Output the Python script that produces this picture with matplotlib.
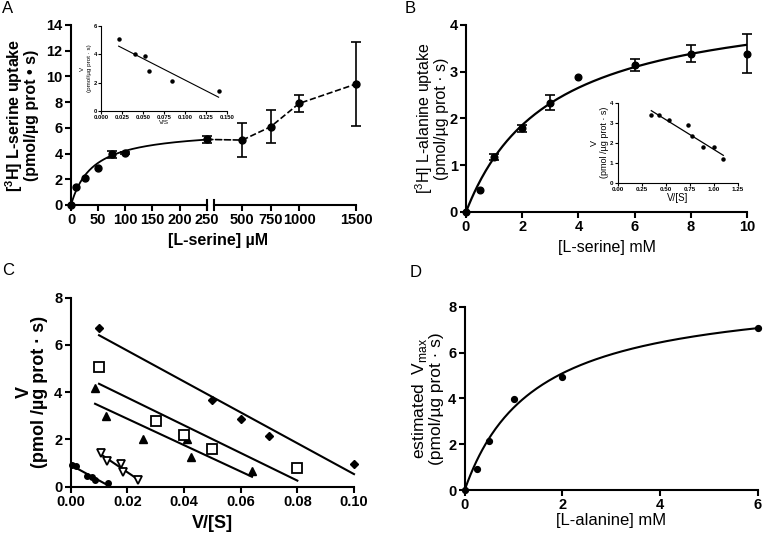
import numpy as np
import matplotlib
matplotlib.use("Agg")
import matplotlib.pyplot as plt
from matplotlib.patches import ConnectionPatch
from matplotlib.ticker import FormatStrFormatter

plt.rcParams['font.family'] = ['Liberation Sans', 'DejaVu Sans']
plt.rcParams['mathtext.fontset'] = 'custom'
plt.rcParams['mathtext.rm'] = 'Liberation Sans'
plt.rcParams['mathtext.bf'] = 'Liberation Sans:bold'
plt.rcParams['axes.linewidth'] = 1.5

# ---------- data ----------
# A: [3H] L-serine uptake vs [L-serine] (uM)
ser_low_x = [0, 10, 25, 50, 75, 100, 250]
ser_low_y = [0, 1.42, 2.07, 2.9, 3.94, 4.02, 5.1]
ser_low_err = [0, 0, 0, 0, 0.27, 0.08, 0.3]
ser_high_x = [500, 750, 1000, 1500]
ser_high_y = [5.05, 6.09, 7.9, 9.41]
ser_high_err = [1.3, 1.27, 0.67, 3.3]
ser_vmax, ser_km = 5.9, 40.0
# A inset (Eadie-Hofstee)
ser_ins_x = [0.021, 0.040, 0.052, 0.057, 0.084, 0.140]
ser_ins_y = [5.1, 4.0, 3.9, 2.85, 2.1, 1.4]

# B: [3H] L-alanine uptake vs [L-serine] (mM)
ala_x = [0, 0.5, 1, 2, 3, 4, 6, 8, 10]
ala_y = [0, 0.47, 1.18, 1.79, 2.34, 2.89, 3.14, 3.39, 3.39]
ala_err = [0, 0, 0.06, 0.07, 0.16, 0, 0.13, 0.19, 0.42]
ala_vmax, ala_km = 4.65, 3.0
ala_ins_x = [0.35, 0.43, 0.53, 0.73, 0.77, 0.89, 1.0, 1.1]
ala_ins_y = [3.39, 3.38, 3.13, 2.88, 2.33, 1.77, 1.8, 1.2]

# C: Eadie-Hofstee at several L-alanine levels
c_circ_x = [0.0005, 0.0018, 0.0056, 0.0074, 0.0086, 0.0133]
c_circ_y = [0.93, 0.87, 0.45, 0.40, 0.28, 0.15]
c_dtri_x = [0.0106, 0.0129, 0.0178, 0.0184, 0.0239]
c_dtri_y = [1.41, 1.10, 0.96, 0.64, 0.28]
c_tri_x = [0.0086, 0.0124, 0.0254, 0.041, 0.0424, 0.064]
c_tri_y = [4.19, 2.99, 2.03, 2.03, 1.24, 0.65]
c_sq_x = [0.010, 0.030, 0.040, 0.050, 0.080]
c_sq_y = [5.05, 2.78, 2.2, 1.6, 0.78]
c_dia_x = [0.010, 0.050, 0.060, 0.070, 0.100]
c_dia_y = [6.72, 3.67, 2.86, 2.16, 0.97]

# D: estimated Vmax vs [L-alanine] (mM)
d_x = [0, 0.25, 0.5, 1, 2, 6]
d_y = [0, 0.92, 2.14, 3.98, 4.95, 7.07]
d_vmax, d_km = 8.76, 1.44


def mm(x, vmax, km):
    return vmax * x / (km + x)


def fit_line(ax, x, y, lw=1.5):
    k, b = np.polyfit(x, y, 1)
    xx = np.array([min(x), max(x)])
    ax.plot(xx, k * xx + b, color='black', lw=lw, clip_on=False)


def style(ax, size=10.5, lw=1.5, length=4):
    for s in ['top', 'right']:
        ax.spines[s].set_visible(False)
    for s in ['left', 'bottom']:
        ax.spines[s].set_linewidth(lw)
    ax.tick_params(direction='out', length=length, width=lw, labelsize=size, pad=2)
    for lab in ax.get_xticklabels() + ax.get_yticklabels():
        lab.set_fontweight('bold')


def points_with_err(ax, x, y, err, ms=5, cap=3.5):
    x, y, err = np.array(x), np.array(y), np.array(err)
    m = err > 0
    ax.errorbar(x[m], y[m], yerr=err[m], fmt='none', ecolor='black',
                elinewidth=1.2, capsize=cap, capthick=1.2, clip_on=False)
    ax.plot(x, y, 'o', color='black', ms=ms, clip_on=False, zorder=3)


fig = plt.figure(figsize=(7.63, 5.36), dpi=100)
W, H = 763, 536


def px_axes(x0, y0, x1, y1):
    return fig.add_axes([x0 / W, 1 - y1 / H, (x1 - x0) / W, (y1 - y0) / H])


# ---------- panel A ----------
axA1 = px_axes(71, 25, 206.7, 205)
axA2 = px_axes(213.9, 25, 356, 205)
xx = np.linspace(0, 250, 200)
axA1.plot(xx, mm(xx, ser_vmax, ser_km), color='black', lw=1.3)
points_with_err(axA1, ser_low_x, ser_low_y, ser_low_err, ms=5)
axA1.set_xlim(0, 250)
axA1.set_ylim(0, 14)
axA1.set_xticks([0, 50, 100, 150, 200, 250])
axA1.set_yticks(range(0, 15, 2))
style(axA1)

axA2.plot(ser_high_x, ser_high_y, '--', color='black', lw=1.2)
points_with_err(axA2, ser_high_x, ser_high_y, ser_high_err, ms=5)
axA2.set_xlim(250, 1500)
axA2.set_ylim(0, 14)
axA2.set_xticks(ser_high_x)
style(axA2)
axA2.spines['left'].set_visible(False)
axA2.yaxis.set_visible(False)
axA2.patch.set_alpha(0)
con = ConnectionPatch(xyA=(ser_low_x[-1], ser_low_y[-1]), coordsA=axA1.transData,
                      xyB=(ser_high_x[0], ser_high_y[0]), coordsB=axA2.transData,
                      linestyle='--', color='black', lw=1.2)
fig.add_artist(con)
# axis break marks
for ax, xb in [(axA1, 1.0), (axA2, 0.0)]:
    ax.plot([xb, xb], [-0.03, 0.03], transform=ax.transAxes, color='black',
            lw=1.5, clip_on=False)

axA1.set_ylabel('[$^{\\mathbf{3}}$H] L-serine uptake\n(pmol/µg prot • s)',
                fontsize=11.5, fontweight='bold', linespacing=0.92)
axA1.yaxis.set_label_coords(-0.235, 0.5)
fig.text(218 / W, 1 - 233 / H, '[L-serine] µM', ha='center', va='top',
         fontsize=11.5, fontweight='bold')

# inset A
axAi = px_axes(101, 26, 227, 111)
axAi.plot(ser_ins_x, ser_ins_y, 'o', color='black', ms=2.2, clip_on=False)
fit_line(axAi, ser_ins_x, ser_ins_y, lw=0.8)
axAi.set_xlim(0, 0.15)
axAi.set_ylim(0, 6)
axAi.set_xticks(np.arange(0, 0.151, 0.025))
axAi.set_yticks([0, 2, 4, 6])
axAi.xaxis.set_major_formatter(FormatStrFormatter('%.3f'))
style(axAi, size=4.2, lw=0.8, length=2)
axAi.tick_params(pad=1)
axAi.set_xlabel('V/S', fontsize=4.5, labelpad=0)
axAi.set_ylabel('V\n(pmol/µg prot · s)', fontsize=4.5, linespacing=1.6, labelpad=1)

# ---------- panel B ----------
axB = px_axes(466, 25, 747, 212)
xx = np.linspace(0, 10, 200)
axB.plot(xx, mm(xx, ala_vmax, ala_km), color='black', lw=1.6)
points_with_err(axB, ala_x, ala_y, ala_err, ms=4.8)
axB.set_xlim(0, 10)
axB.set_ylim(0, 4)
axB.set_xticks(range(0, 11, 2))
axB.set_yticks(range(0, 5))
style(axB)
axB.set_ylabel('[$^{3}$H] L-alanine uptake\n(pmol/µg prot · s)', fontsize=11.5,
               linespacing=0.95)
axB.yaxis.set_label_coords(-0.06, 0.5)
axB.set_xlabel('[L-serine] mM', fontsize=11.5)
axB.xaxis.set_label_coords(0.5, -0.15)

axBi = px_axes(617.7, 102.7, 737.7, 182.7)
axBi.plot(ala_ins_x, ala_ins_y, 'o', color='black', ms=2.2, clip_on=False)
fit_line(axBi, ala_ins_x, ala_ins_y, lw=0.9)
axBi.set_xlim(0, 1.25)
axBi.set_ylim(0, 4)
axBi.set_xticks([0, 0.25, 0.5, 0.75, 1.0, 1.25])
axBi.set_yticks(range(0, 5))
axBi.xaxis.set_major_formatter(FormatStrFormatter('%.2f'))
style(axBi, size=4.5, lw=0.8, length=2)
axBi.tick_params(pad=1)
axBi.set_xlabel('V/[S]', fontsize=7, labelpad=1)
axBi.set_ylabel('V\n(pmol /µg prot · s)', fontsize=6.5, linespacing=1.1, labelpad=1)

# ---------- panel C ----------
axC = px_axes(70.7, 297.7, 354, 486.7)
kw = dict(color='black', linestyle='none', clip_on=False, zorder=3)
axC.plot(c_circ_x, c_circ_y, marker='o', ms=4, **kw)
axC.plot(c_dtri_x, c_dtri_y, marker='v', ms=6, mfc='white', mew=1.3, **kw)
axC.plot(c_tri_x, c_tri_y, marker='^', ms=5.5, **kw)
axC.plot(c_sq_x, c_sq_y, marker='s', ms=6.5, mfc='white', mew=1.3, **kw)
axC.plot(c_dia_x, c_dia_y, marker='D', ms=4, **kw)
for sx, sy in [(c_circ_x, c_circ_y), (c_dtri_x, c_dtri_y), (c_tri_x, c_tri_y),
               (c_sq_x, c_sq_y), (c_dia_x, c_dia_y)]:
    fit_line(axC, sx, sy)
axC.set_xlim(0, 0.10)
axC.set_ylim(0, 8)
axC.set_xticks(np.arange(0, 0.101, 0.02))
axC.set_yticks(range(0, 9, 2))
axC.xaxis.set_major_formatter(FormatStrFormatter('%.2f'))
style(axC)
axC.set_ylabel('V\n(pmol /µg prot · s)', fontsize=13, fontweight='bold', linespacing=0.85)
axC.yaxis.set_label_coords(-0.08, 0.5)
axC.set_xlabel('V/[S]', fontsize=13, fontweight='bold')
axC.xaxis.set_label_coords(0.5, -0.15)

# ---------- panel D ----------
axD = px_axes(464.7, 306.7, 757.7, 490)
xx = np.linspace(0, 6, 200)
axD.plot(xx, mm(xx, d_vmax, d_km), color='black', lw=1.5)
axD.plot(d_x, d_y, 'o', color='black', ms=4.2, clip_on=False, zorder=3)
axD.set_xlim(0, 6)
axD.set_ylim(0, 8)
axD.set_xticks(range(0, 7, 2))
axD.set_yticks(range(0, 9, 2))
style(axD)
axD.set_ylabel('estimated  V$_{\\mathrm{max}}$\n(pmol/µg prot · s)', fontsize=12.5,
               linespacing=0.95)
axD.yaxis.set_label_coords(-0.072, 0.5)
axD.set_xlabel('[L-alanine] mM', fontsize=12)
axD.xaxis.set_label_coords(0.5, -0.127)

# panel letters
for lab, x, y in [('A', 2, 1), ('B', 405, 1), ('C', 2, 263), ('D', 410, 265)]:
    fig.text(x / W, 1 - y / H, lab, ha='left', va='top', fontsize=12)

fig.savefig('out.png', dpi=100)
